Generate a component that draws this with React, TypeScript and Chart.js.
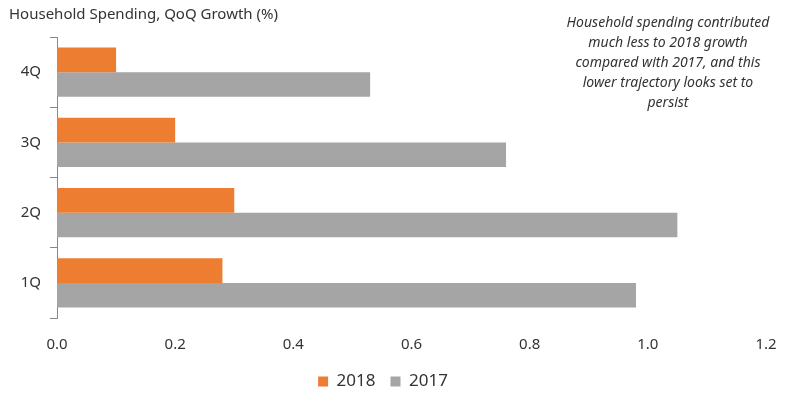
import React, { useEffect, useRef } from "react";
import { Chart, registerables } from "chart.js";

Chart.register(...registerables);

const categories = ["4Q", "3Q", "2Q", "1Q"];
const series2018 = [0.1, 0.2, 0.3, 0.28];
const series2017 = [0.53, 0.76, 1.05, 0.98];
const xTicks = ["0.0", "0.2", "0.4", "0.6", "0.8", "1.0", "1.2"];
const titleText = "Household Spending, QoQ Growth (%)";
const noteLines = [
  "Household spending contributed",
  "much less to 2018 growth",
  "compared with 2017, and this",
  "lower trajectory looks set to",
  "persist",
];

const FONT = "'Noto Sans', sans-serif";
const TEXT = "#333333";

const textPlugin = {
  id: "textPlugin",
  afterDraw(chart: any) {
    const ctx = chart.ctx;
    ctx.save();
    ctx.fillStyle = TEXT;
    ctx.font = `15px ${FONT}`;
    ctx.textAlign = "left";
    ctx.textBaseline = "middle";
    ctx.fillText(titleText, 9, 15);
    ctx.font = `italic 14px ${FONT}`;
    ctx.textAlign = "center";
    noteLines.forEach((l, i) => ctx.fillText(l, 668, 23 + i * 20));
    ctx.restore();
  },
};

export default function App() {
  const ref = useRef<HTMLCanvasElement>(null);
  useEffect(() => {
    const chart = new Chart(ref.current!, {
      type: "bar",
      data: {
        labels: categories,
        datasets: [
          { label: "2018", data: series2018, backgroundColor: "#ED7D31", categoryPercentage: 0.7, barPercentage: 1.0 },
          { label: "2017", data: series2017, backgroundColor: "#A5A5A5", categoryPercentage: 0.7, barPercentage: 1.0 },
        ],
      },
      options: {
        indexAxis: "y",
        animation: false,
        responsive: false,
        layout: { padding: { top: 37, right: 34, bottom: 14, left: 0 } },
        plugins: {
          legend: {
            position: "bottom",
            labels: {
              boxWidth: 10,
              boxHeight: 10,
              padding: 15,
              color: TEXT,
              font: { family: FONT, size: 17 },
            },
          },
          title: { display: false },
          tooltip: { enabled: false },
        },
        scales: {
          x: {
            min: 0,
            max: 1.2,
            ticks: {
              stepSize: 0.2,
              color: TEXT,
              padding: 18,
              font: { family: FONT, size: 15 },
              callback: (v: any, i: number) => xTicks[i],
            },
            grid: { display: false, drawTicks: false },
            border: { display: false },
            afterFit: (s: any) => { s.height = 40; },
          },
          y: {
            ticks: { color: TEXT, padding: 9, font: { family: FONT, size: 15 } },
            grid: { drawOnChartArea: false, tickLength: 7, color: "#888888", offset: true },
            border: { display: true, color: "#888888" },
            afterFit: (s: any) => { s.width = 57; },
          },
        },
      },
      plugins: [textPlugin],
    } as any);
    return () => chart.destroy();
  }, []);
  return (
    <div style={{ position: "absolute", left: 0, top: 0, width: 800, height: 414, background: "#fff" }}>
      <canvas ref={ref} width={800} height={414} />
    </div>
  );
}
